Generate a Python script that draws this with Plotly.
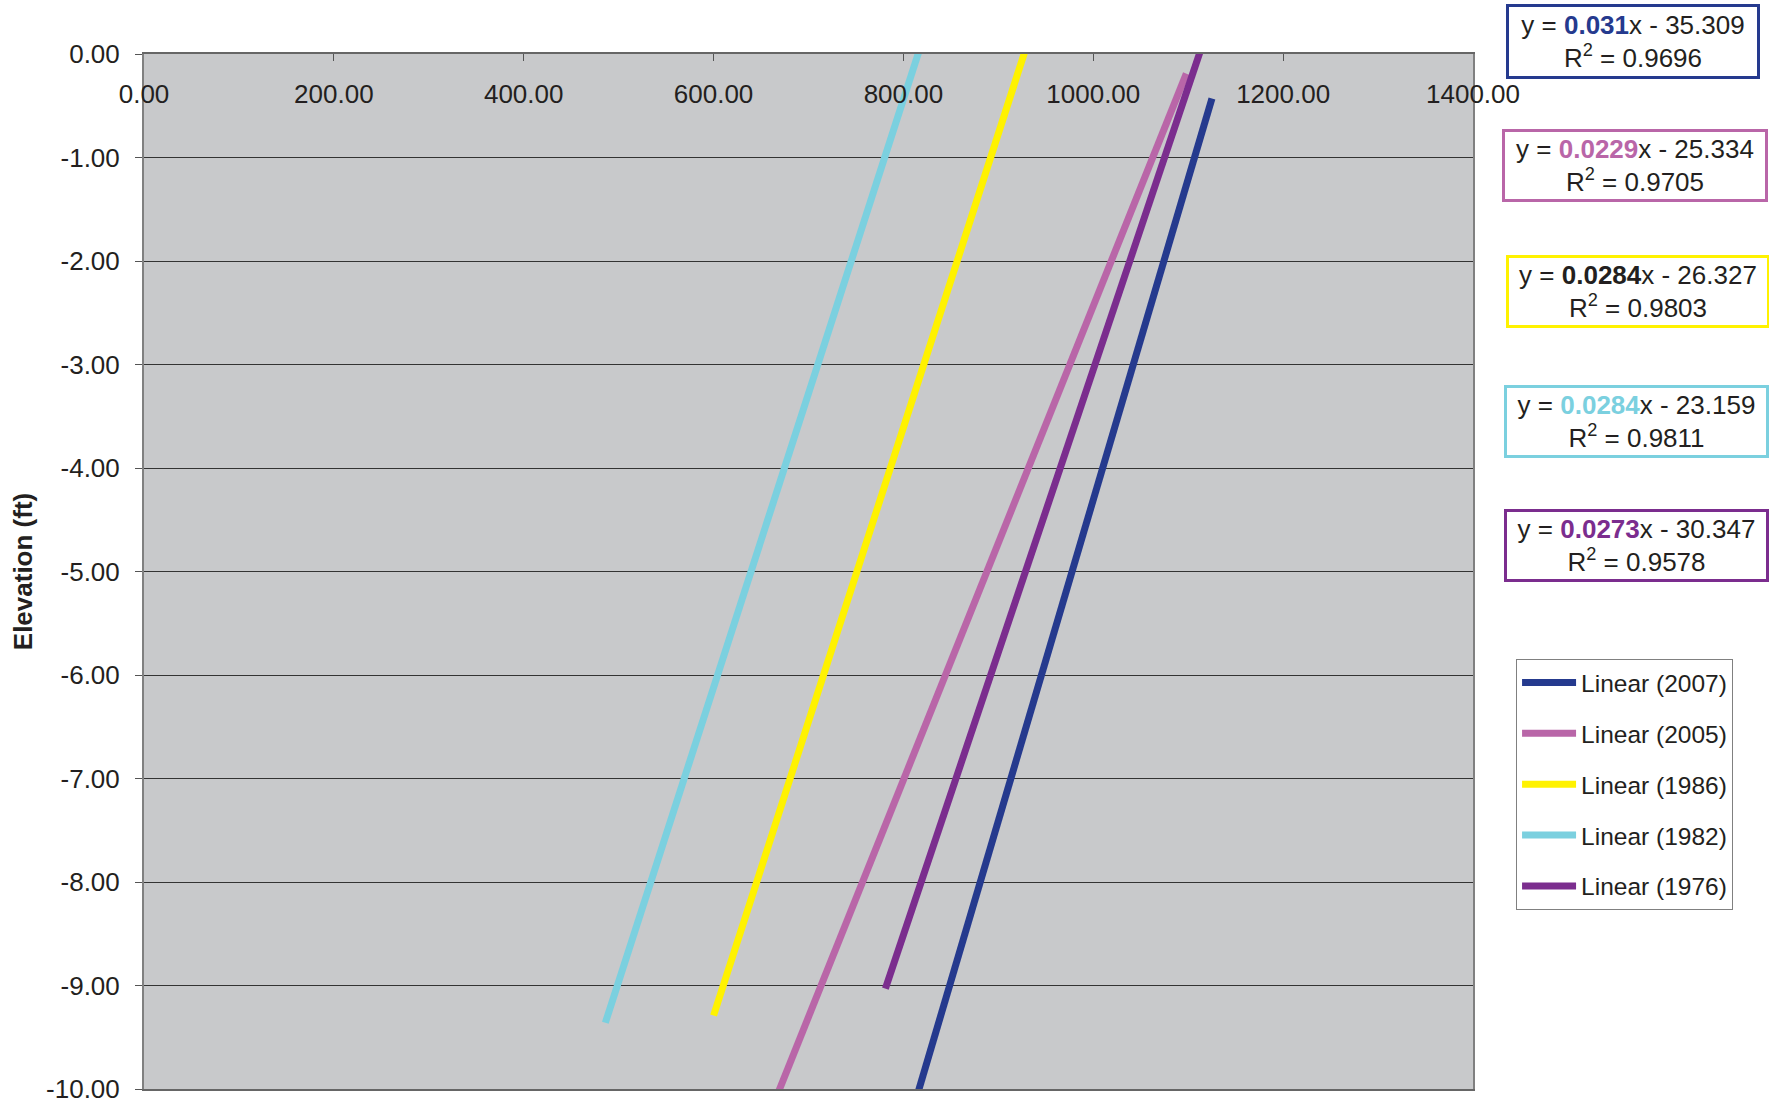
import plotly.graph_objects as go

# Trend lines: endpoints in data units
series_names = ["Linear (2007)", "Linear (2005)", "Linear (1986)", "Linear (1982)", "Linear (1976)"]
x_start = [810, 660, 600, 486, 781]
x_end = [1125, 1098, 932, 820, 1115]
y_start = [-10.20, -10.22, -9.29, -9.36, -9.03]
y_end = [-0.43, -0.19, 0.14, 0.13, 0.09]
colors = ["#253A8E", "#B966A8", "#FFF200", "#7BD0DF", "#7B2D8E"]

# Trendline equation labels
slopes = ["0.031", "0.0229", "0.0284", "0.0284", "0.0273"]
intercepts = ["35.309", "25.334", "26.327", "23.159", "30.347"]
r2_values = ["0.9696", "0.9705", "0.9803", "0.9811", "0.9578"]
slope_colors = ["#253A8E", "#B966A8", "#231F20", "#7BD0DF", "#7B2D8E"]

x_ticks = [0, 200, 400, 600, 800, 1000, 1200, 1400]
y_ticks = [0, -1, -2, -3, -4, -5, -6, -7, -8, -9, -10]

FONT = "Liberation Sans, Arial, sans-serif"
TXT = "#231F20"

fig = go.Figure()
for i, name in enumerate(series_names):
    fig.add_trace(go.Scatter(
        x=[x_start[i], x_end[i]], y=[y_start[i], y_end[i]],
        mode="lines", name=name, legendgroup=name,
        line=dict(color=colors[i], width=7),
    ))

# equation boxes (paper coords)
box_x = [1.1204, 1.1219, 1.1242, 1.1231, 1.1231]
box_y = [1.0125, 0.8924, 0.7706, 0.6449, 0.5250]
box_w = [248, 260, 258, 259, 259]
box_h = [69, 67, 67, 67, 67]
for i in range(len(series_names)):
    txt = (f"y = <b><span style='color:{slope_colors[i]}'>{slopes[i]}</span></b>x - {intercepts[i]}"
           f"<br>R<sup>2</sup> = {r2_values[i]}")
    fig.add_annotation(
        x=box_x[i], y=box_y[i], xref="paper", yref="paper",
        xanchor="center", yanchor="middle", showarrow=False,
        text=txt, align="center",
        font=dict(family=FONT, size=26, color=TXT),
        bordercolor=colors[i], borderwidth=3, borderpad=0,
        bgcolor="white", width=box_w[i], height=box_h[i],
    )

fig.update_layout(
    width=1769, height=1110,
    margin=dict(l=144, r=296, t=54, b=21, autoexpand=False),
    paper_bgcolor="white", plot_bgcolor="#C8C9CB",
    font=dict(family=FONT, size=24, color=TXT),
    showlegend=True,
    legend=dict(
        x=1.0324, y=0.4154, xanchor="left", yanchor="top",
        bgcolor="white", bordercolor="#808080", borderwidth=1,
        font=dict(family=FONT, size=24.5, color=TXT),
        tracegroupgap=16, traceorder="grouped", itemwidth=54,
    ),
    xaxis=dict(
        range=[0, 1400], side="top", tickmode="array", tickvals=x_ticks,
        ticktext=[f"{v:.2f}" for v in x_ticks],
        ticks="inside", ticklen=7, tickcolor="#555555",
        ticklabelposition="inside", ticklabeloverflow="allow", ticklabelstandoff=26,
        showgrid=False, zeroline=False,
        showline=True, linecolor="#666666", linewidth=2, mirror=True,
        tickfont=dict(family=FONT, size=26, color=TXT),
    ),
    yaxis=dict(
        range=[-10, 0], tickmode="array", tickvals=y_ticks,
        ticktext=[f"{v:.2f}" for v in y_ticks],
        ticks="outside", ticklen=7, tickcolor="#555555",
        ticklabeloverflow="allow",
        showgrid=True, gridcolor="#333333", gridwidth=1, zeroline=False,
        showline=True, linecolor="#808080", linewidth=2, mirror=True,
        tickfont=dict(family=FONT, size=26, color=TXT), ticklabelstandoff=10,
        title=dict(text="<b>Elevation (ft)</b>", standoff=6,
                   font=dict(family=FONT, size=26, color=TXT)),
    ),
)

fig.write_html(
    "out.html",
    config={"displayModeBar": False},
    post_script="document.body.style.margin='0';document.body.style.overflow='hidden';",
)
